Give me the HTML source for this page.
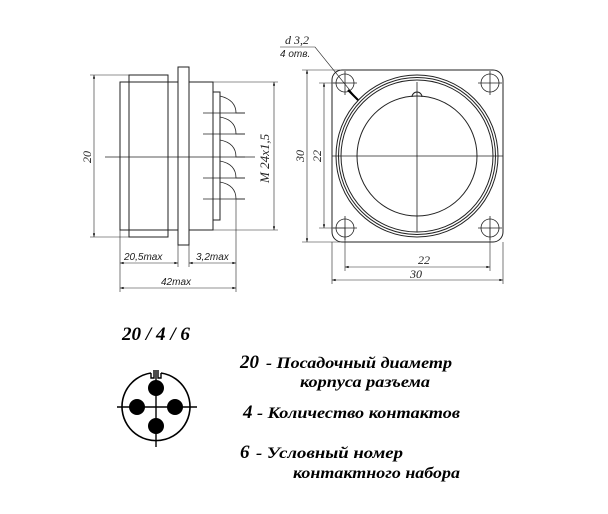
<!DOCTYPE html>
<html><head><meta charset="utf-8"><style>
html,body{margin:0;padding:0;background:#fff}
svg{display:block}
.t{font-family:"Liberation Serif",serif;font-style:italic}
.s{font-family:"Liberation Sans",sans-serif;font-style:italic}
</style></head><body>
<svg width="608" height="514" viewBox="0 0 608 514" xmlns="http://www.w3.org/2000/svg">
<defs>
<marker id="a" viewBox="0 0 10 10" refX="10" refY="5" markerWidth="8" markerHeight="6" orient="auto-start-reverse"><path d="M0,2 L10,5 L0,8z" fill="#000"/></marker>
</defs>
<g fill="none" stroke="#222" stroke-width="1">
<rect x="120" y="82" width="58" height="148"/>
<rect x="129" y="75" width="39" height="162"/>
<rect x="178" y="67" width="11" height="178"/>
<rect x="189" y="82" width="24" height="148"/>
<rect x="213" y="92" width="7" height="128"/>
<path d="M220,96 Q236,100 236,113 L245,113 M220,117 Q236,120 236,134 L245,134 M220,140 Q236,143 236,157 L245,157 M220,161 Q236,164 236,178 L245,178 M220,182 Q236,185 236,199 L245,199" stroke-width="0.8"/>
<g stroke-width="0.8"><line x1="203" y1="113" x2="245" y2="113"/><line x1="203" y1="134" x2="245" y2="134"/><line x1="203" y1="178" x2="245" y2="178"/><line x1="203" y1="199" x2="245" y2="199"/></g>
<line x1="105" y1="157" x2="255" y2="157" stroke-width="0.8"/>
<g stroke-width="0.6">
<line x1="90" y1="75" x2="129" y2="75"/><line x1="90" y1="237" x2="129" y2="237"/>
<line x1="94" y1="75" x2="94" y2="237" marker-start="url(#a)" marker-end="url(#a)"/>
<line x1="213" y1="82" x2="278" y2="82"/><line x1="213" y1="230" x2="278" y2="230"/>
<line x1="274" y1="82" x2="274" y2="230" marker-start="url(#a)" marker-end="url(#a)"/>
<line x1="120" y1="230" x2="120" y2="292"/><line x1="178" y1="245" x2="178" y2="267"/>
<line x1="189" y1="245" x2="189" y2="267"/><line x1="236" y1="199" x2="236" y2="292"/>
<line x1="120" y1="263" x2="178" y2="263" marker-start="url(#a)" marker-end="url(#a)"/>
<line x1="189" y1="263" x2="236" y2="263" marker-start="url(#a)" marker-end="url(#a)"/>
<line x1="120" y1="288" x2="236" y2="288" marker-start="url(#a)" marker-end="url(#a)"/>
</g>
<rect x="332" y="70" width="171" height="172" rx="10"/>
<circle cx="417" cy="156" r="81"/><circle cx="417" cy="156" r="78.5"/><circle cx="417" cy="156" r="76"/>
<circle cx="417" cy="156" r="60"/>
<path d="M412,97 A5,5 0 0 1 422,97" />
<g stroke-width="0.8">
<circle cx="345" cy="83" r="9"/><circle cx="490" cy="83" r="9"/><circle cx="345" cy="228" r="9"/><circle cx="490" cy="228" r="9"/>
<path d="M333,83h24M345,71v24M478,83h24M490,71v24M333,228h24M345,216v24M478,228h24M490,216v24"/>
<line x1="332" y1="156" x2="503" y2="156"/><line x1="417" y1="82" x2="417" y2="232"/>
</g>
<g stroke-width="0.6">
<line x1="302" y1="70" x2="340" y2="70"/><line x1="302" y1="242" x2="340" y2="242"/>
<line x1="307" y1="70" x2="307" y2="242" marker-start="url(#a)" marker-end="url(#a)"/>
<line x1="319" y1="83" x2="345" y2="83"/><line x1="319" y1="228" x2="345" y2="228"/>
<line x1="324" y1="83" x2="324" y2="228" marker-start="url(#a)" marker-end="url(#a)"/>
<line x1="345" y1="228" x2="345" y2="271"/><line x1="490" y1="228" x2="490" y2="271"/>
<line x1="332" y1="242" x2="332" y2="284"/><line x1="503" y1="242" x2="503" y2="284"/>
<line x1="345" y1="267" x2="490" y2="267" marker-start="url(#a)" marker-end="url(#a)"/>
<line x1="332" y1="280" x2="503" y2="280" marker-start="url(#a)" marker-end="url(#a)"/>
<polyline points="280,47 315,47 357,99" />
</g>
<line x1="348" y1="90" x2="358" y2="100" stroke="#000" stroke-width="2"/>
<path d="M151,373 A34,34 0 1 0 161,373" stroke="#000" stroke-width="1.6"/>
<path d="M151,373 v5 h3 v-8 M161,373 v5 h-3 v-8" stroke="#000" stroke-width="1.4"/>
<line x1="117" y1="407" x2="197" y2="407" stroke="#000" stroke-width="1.4"/>
<line x1="156" y1="370" x2="156" y2="447" stroke="#000" stroke-width="1.4"/>
</g>
<g fill="#000">
<circle cx="156" cy="388" r="8"/><circle cx="156" cy="426" r="8"/><circle cx="137" cy="407" r="8"/><circle cx="175" cy="407" r="8"/>
</g>
<g class="t" font-size="12" fill="#222">
<text x="0" y="0" transform="translate(91,163) rotate(-90)">20</text>
<text x="0" y="0" transform="translate(269,183) rotate(-90)" font-size="13">M 24x1,5</text>
<text x="0" y="0" transform="translate(304,162) rotate(-90)">30</text>
<text x="0" y="0" transform="translate(321,162) rotate(-90)">22</text>
<text x="418" y="264">22</text>
<text x="410" y="278">30</text>
<text x="285" y="44">d 3,2</text>
</g>
<g class="s" font-size="10" fill="#222">
<text x="124" y="260">20,5max</text>
<text x="196" y="260">3,2max</text>
<text x="161" y="285">42max</text>
<text x="280" y="57">4 отв.</text>
</g>
<g class="t" font-weight="bold" fill="#000" font-size="16">
<text x="122" y="340" font-size="19" textLength="68" lengthAdjust="spacingAndGlyphs">20 / 4 / 6</text>
<text x="240" y="368" font-size="19">20</text>
<text x="266" y="368" textLength="186" lengthAdjust="spacingAndGlyphs">-  Посадочный диаметр</text>
<text x="300" y="387" textLength="130" lengthAdjust="spacingAndGlyphs">корпуса разъема</text>
<text x="243" y="418" font-size="19">4</text>
<text x="257" y="418" textLength="203" lengthAdjust="spacingAndGlyphs">- Количество контактов</text>
<text x="240" y="458" font-size="19">6</text>
<text x="256" y="458" textLength="147" lengthAdjust="spacingAndGlyphs">- Условный номер</text>
<text x="293" y="478" textLength="167" lengthAdjust="spacingAndGlyphs">контактного набора</text>
</g>
</svg>
</body></html>
